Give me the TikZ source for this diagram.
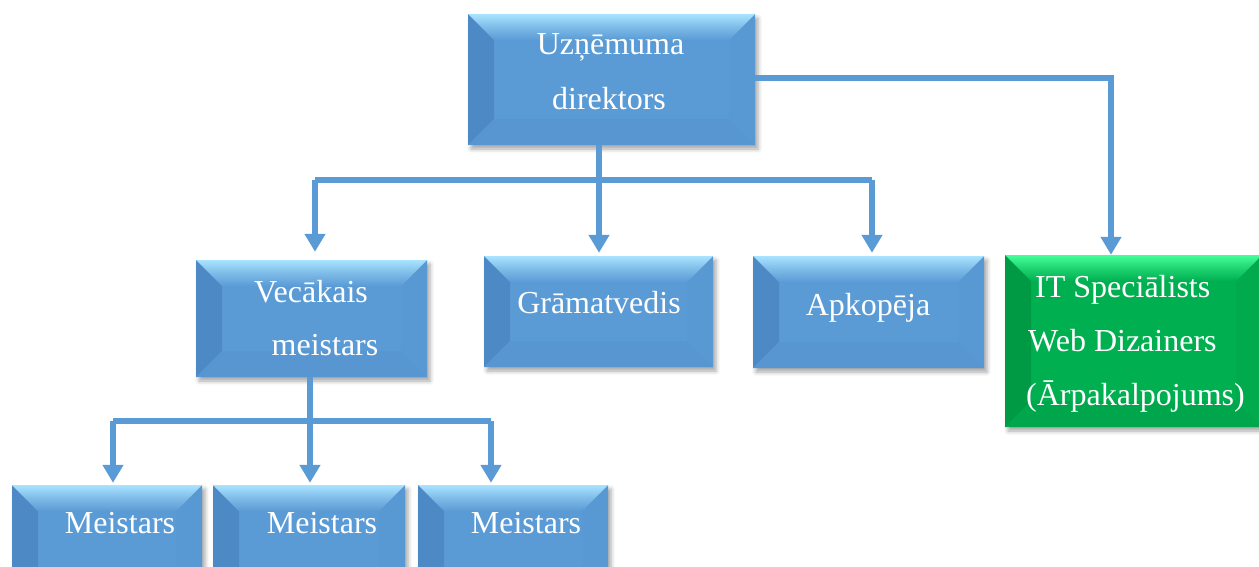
\documentclass[tikz,border=0pt]{standalone}
\usepackage{fontspec}
\setmainfont{Liberation Serif}
\usetikzlibrary{arrows.meta,shadows.blur,calc}
\definecolor{bmain}{HTML}{5B9BD5}
\definecolor{btop}{HTML}{A9E3FF}
\definecolor{bleft}{HTML}{4D89C4}
\definecolor{bright}{HTML}{5999D3}
\definecolor{bbot}{HTML}{5796D0}
\definecolor{gmain}{HTML}{00B050}
\definecolor{gtop}{HTML}{45FF9A}
\definecolor{gleft}{HTML}{009A45}
\definecolor{gright}{HTML}{00AA4D}
\definecolor{gbot}{HTML}{00A64B}
\definecolor{connc}{HTML}{5B9BD5}
\newcommand\bevfaces[5]{%
  \coordinate (bNW) at (path picture bounding box.north west);
  \coordinate (bNE) at (path picture bounding box.north east);
  \coordinate (bSW) at (path picture bounding box.south west);
  \coordinate (bSE) at (path picture bounding box.south east);
  \fill[#1] (bSW) rectangle (bNE);
  \fill[#3] (bNW) -- ($(bNW)+(26pt,-26pt)$) -- ($(bSW)+(26pt,26pt)$) -- (bSW) -- cycle;
  \fill[#4] (bNE) -- ($(bNE)+(-26pt,-26pt)$) -- ($(bSE)+(-26pt,26pt)$) -- (bSE) -- cycle;
  \fill[#5] (bSW) -- ($(bSW)+(26pt,26pt)$) -- ($(bSE)+(-26pt,26pt)$) -- (bSE) -- cycle;
  \shade[top color=#2, bottom color=#1, middle color=#2!45!#1] (bNW) -- (bNE) -- ($(bNE)+(-26pt,-26pt)$) -- ($(bNW)+(26pt,-26pt)$) -- cycle;
}
\tikzset{
  boxbase/.style={rectangle, inner sep=0pt,
    blur shadow={shadow xshift=3pt, shadow yshift=-4pt, shadow blur radius=4pt, shadow opacity=35}},
  bluebox/.style={boxbase, fill=bmain, path picture={\bevfaces{bmain}{btop}{bleft}{bright}{bbot}}},
  greenbox/.style={boxbase, fill=gmain, path picture={\bevfaces{gmain}{gtop}{gleft}{gright}{gbot}}},
  txt/.style={text=white, font=\fontsize{32pt}{38pt}\selectfont, inner sep=0pt, anchor=base},
  conn/.style={draw=connc, line width=6pt, line join=miter},
  arr/.style={conn, -{Triangle[length=18pt,width=20pt]}, shorten >=#1},
  arr/.default=3pt
}
\begin{document}
\begin{tikzpicture}[x=1pt,y=-1pt]
\useasboundingbox (0,0) rectangle (1259,567);
\clip (0,0) rectangle (1259,567);
% boxes
\node[bluebox, minimum width=287pt, minimum height=131pt] (dir) at (611.5,79.5) {};
\node[bluebox, minimum width=231pt, minimum height=117pt] (vec) at (311.5,318.5) {};
\node[bluebox, minimum width=229pt, minimum height=111pt] (gra) at (598.5,311.5) {};
\node[bluebox, minimum width=231pt, minimum height=112pt] (apk) at (868.5,312) {};
\node[greenbox, minimum width=257pt, minimum height=172pt] (it) at (1133.5,341) {};
\node[bluebox, minimum width=190pt, minimum height=111pt] (m1) at (107,540.5) {};
\node[bluebox, minimum width=192pt, minimum height=111pt] (m2) at (309,540.5) {};
\node[bluebox, minimum width=190pt, minimum height=111pt] (m3) at (513,540.5) {};
% junctions
\coordinate (j1) at (599,180);
\coordinate (b1) at (315,180);
\coordinate (b3) at (872,180);
\coordinate (k) at (1111,78);
\coordinate (j2) at (310,421);
\coordinate (a1) at (113,421);
\coordinate (a3) at (491,421);
% connectors
\draw[conn] (dir.south -| j1) -- (j1);
\draw[conn] (b1) -- (b3);
\draw[arr=8pt] (b1) -- (b1 |- vec.north);
\draw[arr] (j1) -- (j1 |- gra.north);
\draw[arr] (b3) -- (b3 |- apk.north);
\draw[arr=0pt] (dir.east |- k) -- (k) -- (k |- it.north);
\draw[conn] (vec.south -| j2) -- (j2);
\draw[conn] (a1) -- (a3);
\draw[arr=2pt] (a1) -- (a1 |- m1.north);
\draw[arr=2pt] (j2) -- (j2 |- m2.north);
\draw[arr=2pt] (a3) -- (a3 |- m3.north);
% texts
\node[txt] (dirT1) at (610.5,55) {Uzņēmuma};
\node[txt] (dirT2) at (609,110) {direktors};
\node[txt] (vecT1) at (311,302) {Vecākais};
\node[txt] (vecT2) at (325,355) {meistars};
\node[txt] (graT) at (599,313) {Grāmatvedis};
\node[txt] (apkT) at (868,315) {Apkopēja};
\node[txt, anchor=base west] (itT1) at (1035,297) {IT Speciālists};
\node[txt, anchor=base west] (itT2) at (1028,351) {Web Dizainers};
\node[txt, anchor=base west] (itT3) at (1026,405) {(Ārpakalpojums)};
\node[txt] (mT1) at (120,533) {Meistars};
\node[txt] (mT2) at (322,533) {Meistars};
\node[txt] (mT3) at (526,533) {Meistars};
\end{tikzpicture}
\end{document}
